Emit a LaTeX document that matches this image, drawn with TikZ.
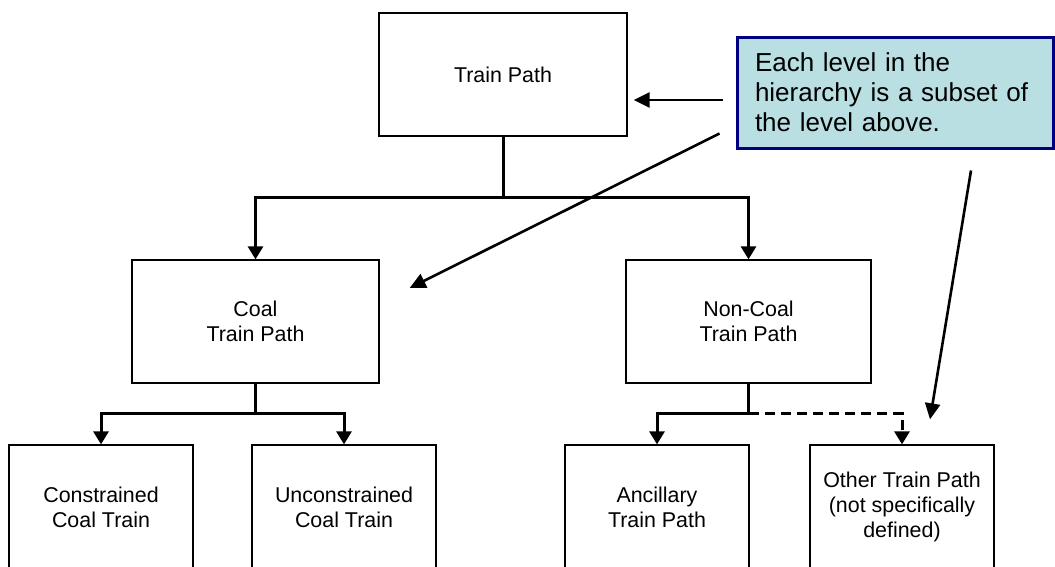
\documentclass[tikz,border=0pt]{standalone}
\usepackage{fontspec}
\setmainfont{Liberation Sans}
\usetikzlibrary{arrows.meta}
\definecolor{notefill}{HTML}{B9DFE3}
\definecolor{noteline}{HTML}{000080}
\begin{document}
\begin{tikzpicture}[x=1pt,y=-1pt,
  box/.style={draw=black, line width=1.3pt, align=center, inner sep=0pt,
    font=\fontsize{21.4}{25}\selectfont},
  leaf/.style={box, minimum width=184pt, minimum height=124pt},
  mid/.style={box, minimum height=123pt},
  conn/.style={line width=3pt, -{Triangle[width=15pt,length=13pt]}},
  dashconn/.style={conn, dash pattern=on 10pt off 6pt},
  carrow/.style={line width=2.6pt, -{Triangle[width=15pt,length=16pt]}},
  notebox/.style={draw=noteline, fill=notefill, line width=3pt, inner sep=0pt,
    minimum width=316pt, minimum height=111pt, text width=280pt, align=left,
    font=\fontsize{26}{30}\selectfont}
]
\useasboundingbox (0,0) rectangle (1055,566);
\clip (0,0) rectangle (1055,566);

% nodes
\node[mid, minimum width=248pt] (tp) at (503,74.5) {Train Path};
\node[mid, minimum width=247pt] (coal) at (255.5,321.5) {Coal\\Train Path};
\node[mid, minimum width=245pt] (noncoal) at (748.5,321.5) {Non-Coal\\Train Path};
\node[leaf] (con) at (101,507) {Constrained\\Coal Train};
\node[leaf] (uncon) at (344,507) {Unconstrained\\Coal Train};
\node[leaf] (anc) at (657,507) {Ancillary\\Train Path};
\node[leaf] (oth) at (902,507) {Other Train Path\\(not specifically\\defined)};
\node[notebox] (note) at (895,92.5) {Each level in the\\hierarchy is a subset of\\the level above.};

% tree connectors
\draw[conn] (tp.south) -- ++(0,61) -| (coal.north);
\draw[conn] (tp.south) -- ++(0,61) -| (noncoal.north);
\draw[conn] (coal.south) -- ++(0,30) -| (con.north);
\draw[conn] (coal.south) -- ++(0,30) -| (uncon.north);
\draw[conn] (noncoal.south) -- ++(0,30) -| (anc.north);
\draw[dashconn] (noncoal.south) ++(0,30) -| (oth.north);

% callout arrows
\draw[carrow] ([shift={(-13,7.5)}]note.west) -- ([shift={(6,25.5)}]tp.east);
\draw[carrow] ([shift={(-16,-16)}]note.south west) -- ([shift={(30,-33.5)}]coal.east);
\draw[carrow] ([shift={(76,21)}]note.south) -- ([shift={(28,-25)}]oth.north);
\end{tikzpicture}
\end{document}
